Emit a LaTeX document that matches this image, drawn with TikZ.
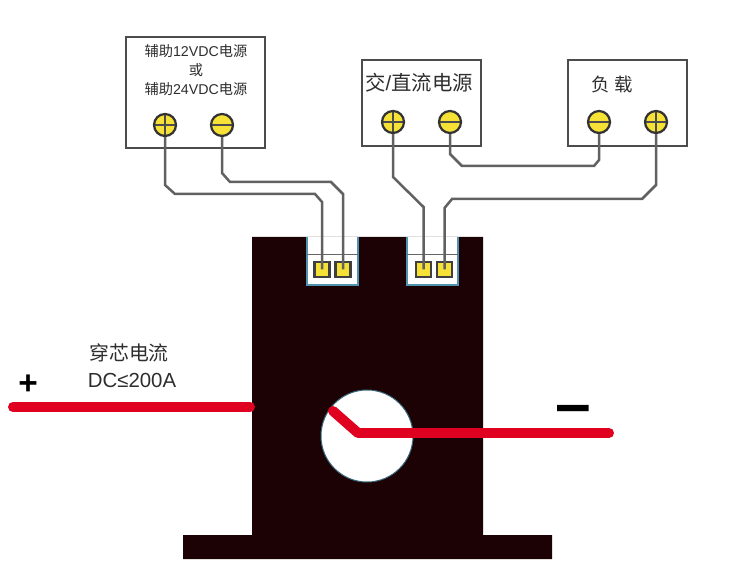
\documentclass[tikz,border=0pt]{standalone}
\usepackage{fontspec}
\setmainfont{Liberation Sans}
\newfontfamily\cjk{Noto Sans CJK SC}
\definecolor{bodyc}{HTML}{1C0205}
\definecolor{redc}{HTML}{E0001F}
\definecolor{yelc}{HTML}{F6E137}
\definecolor{edgec}{HTML}{4F93AE}
\definecolor{txtc}{HTML}{2E2E2E}
\tikzset{
  box/.style={draw=black!70, line width=0.03cm, fill=white, minimum width=#1, minimum height=1.72cm, inner sep=0pt},
  term/.style={circle, draw=black!80, line width=0.045cm, fill=yelc, minimum size=0.44cm, inner sep=0pt},
  termplus/.style={term, path picture={
    \draw[black!70, line width=0.03cm] (path picture bounding box.west) -- (path picture bounding box.east);
    \draw[black!70, line width=0.03cm] (path picture bounding box.north) -- (path picture bounding box.south);}},
  termminus/.style={term, path picture={
    \draw[black!70, line width=0.03cm] (path picture bounding box.west) -- (path picture bounding box.east);}},
  pad/.style={draw=black!75, line width=0.045cm, fill=yelc, minimum size=0.3cm, inner sep=0pt},
  wire/.style={draw=black!62, line width=0.05cm},
  current/.style={draw=redc, line width=0.2cm, line cap=round, line join=round},
  label/.style={text=txtc, inner sep=0pt, align=center}
}
\begin{document}
\begin{tikzpicture}[x=0.02cm, y=-0.02cm]
\useasboundingbox[fill=white] (0,0) rectangle (750,580);

\fill[bodyc] (252,237) -- (483,237) -- (483,535) -- (552,535) -- (552,559) -- (183,559) -- (183,535) -- (252,535) -- cycle;
\draw[edgec!70!black, line width=0.02cm, fill=white] (367,436) circle (46);

\fill[white] (307,237) rectangle (358,285);
\draw[edgec, line width=0.03cm] (307,237) |- (358,285) -- (358,237);
\draw[black!60, line width=0.02cm] (307,255) -- (358,255);
\fill[white] (407,237) rectangle (458,285);
\draw[edgec, line width=0.03cm] (407,237) |- (458,285) -- (458,237);
\draw[black!60, line width=0.02cm] (407,255) -- (458,255);

\node (aux) at (195.5,92.5) [box=2.78cm, minimum height=2.22cm] {};
\node (src) at (421.5,103) [box=2.38cm] {};
\node (load) at (627.5,103) [box=2.38cm] {};

\node (auxtxt) at (196,70) [label, font=\fontsize{8.1}{10.6}\selectfont] {{\cjk 辅助}12VDC{\cjk 电源}\\{\cjk 或}\\{\cjk 辅助}24VDC{\cjk 电源}};
\node (srctxt) at (419,83) [label, font=\fontsize{11.6}{13}\selectfont] {{\cjk 交}/{\cjk 直流电源}};
\node (loadtxt) at (612,85) [label, font=\fontsize{10.5}{13}\selectfont\cjk] {负 载};
\node (ampa) at (129,353) [label, font=\fontsize{11.3}{13}\selectfont\cjk] {穿芯电流};
\node (ampb) at (132,380) [label, font=\fontsize{11.6}{13}\selectfont] {DC≤200A};
\node (plus) at (28,385) [label, text=black, font=\bfseries\fontsize{19}{19}\selectfont] {+};
\node (minus) at (573,415) [label, text=black, yscale=2, transform shape, font=\bfseries\fontsize{18}{18}\selectfont] {—};

\node (auxp) at (165,125) [termplus] {};
\node (auxm) at (222,125) [termminus] {};
\node (srcp) at (393,122) [termplus] {};
\node (srcm) at (450,122) [termminus] {};
\node (loadm) at (599,122) [termminus] {};
\node (loadp) at (656,122) [termplus] {};

\node (pada) at (322,269.5) [pad] {};
\node (padb) at (343,269.5) [pad] {};
\node (padc) at (423.5,269.5) [pad] {};
\node (padd) at (444.5,269.5) [pad] {};

\draw[wire] (auxp.south) -- (165,185) -- (175,194) -- (315,194) -- (322,202) -- (pada.center);
\draw[wire] (auxm.south) -- (222,173) -- (230,182) -- (331,182) -- (343,194) -- (padb.center);
\draw[wire] (srcp.south) -- (393,177) -- (423.5,207) -- (padc.center);
\draw[wire] (srcm.south) -- (450,154) -- (462,166) -- (594,166) -- (599,160) -- (loadm.south);
\draw[wire] (loadp.south) -- (656,185) -- (642,199) -- (452,199) -- (444.5,208) -- (padd.center);

\coordinate (inl) at (13,407); \coordinate (inr) at (250,407);
\coordinate (tip) at (333,411); \coordinate (knee) at (358,433); \coordinate (outr) at (609,433);
\draw[current] (inl) -- (inr);
\draw[current] (tip) -- (knee) -- (outr);
\end{tikzpicture}
\end{document}
